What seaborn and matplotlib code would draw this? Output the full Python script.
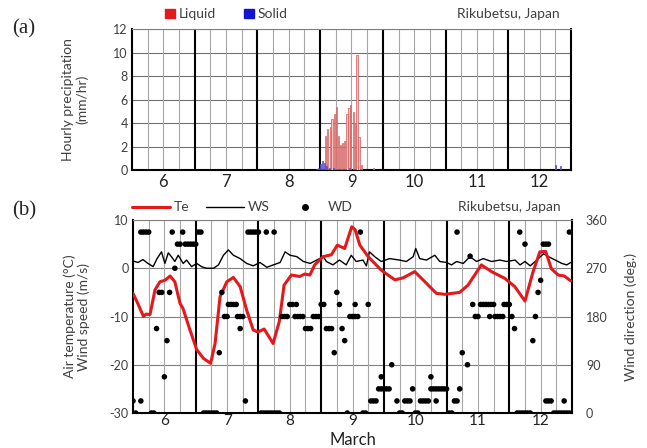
import numpy as np
import pandas as pd
import matplotlib
matplotlib.use('Agg')
import matplotlib.pyplot as plt
import seaborn as sns
from matplotlib.patches import Patch
from matplotlib.lines import Line2D

# ---- values ----
days = [6, 7, 8, 9, 10, 11, 12]

# (a) hourly precipitation, time in days of March
liquid_t = [8.59, 8.62, 8.66, 8.69, 8.73, 8.76, 8.79, 8.83, 8.86, 8.89,
            8.93, 8.96, 8.99, 9.03, 9.06, 9.09, 9.12, 9.16, 9.35]
liquid_mm = [2.9, 3.5, 3.7, 4.3, 4.8, 5.4, 2.9, 2.1, 2.3, 2.5,
             4.8, 5.3, 5.5, 4.9, 4.0, 9.8, 2.8, 0.4, 0.2]
solid_t = [8.45, 8.48, 8.51, 8.54, 8.57, 8.60, 8.65, 8.71, 8.80, 8.87,
           8.97, 9.05, 12.25, 12.33]
solid_mm = [0.05, 0.2, 0.55, 0.75, 0.6, 0.3, 0.15, 0.2, 0.1, 0.12,
            0.15, 0.1, 0.4, 0.3]

# (b) hours since 6 March 00:00
te_hour = [0, 2, 4, 5, 6.5, 8.4, 10.3, 12.2, 14.2, 16, 18, 19.1, 21.8, 24.4, 27,
           29.7, 31.4, 33.3, 35.9, 38.4, 41, 43.5, 46, 47.8, 50.2, 53.6, 56, 57.8,
           60.6, 63.8, 65.7, 67.7, 69.5, 72.7, 75.9, 78.2, 81, 83.7, 85, 86.8, 90,
           95, 100.2, 103.3, 107.8, 111.7, 116.1, 119.3, 125, 128.2, 133.3, 137.2,
           142.3, 146.1, 150, 153.1, 155.7, 157.9, 160.1, 162.7, 165, 167.5]
te_c = [-5.2, -7.5, -10.0, -9.5, -9.6, -4.5, -2.8, -2.5, -1.6, -2.8, -7.3, -8.3, -12.8, -16.9, -18.7,
        -19.7, -15.6, -5.9, -2.8, -1.9, -3.8, -8.7, -12.8, -13.2, -12.6, -15.6, -11.0, -3.5,
        -1.4, -1.7, -1.2, -1.4, 0.7, 2.4, 2.8, 4.8, 4.1, 8.6, 8.0, 4.8, 2.4,
        -0.4, -2.4, -2.0, -0.7, -2.8, -5.2, -5.4, -5.0, -3.5, 0.7, -0.7,
        -2.1, -3.8, -6.8, -0.7, 3.4, 3.5, -0.1, -1.4, -1.6, -2.6]

ws_hour = [0, 1.9, 3.8, 5.7, 7.7, 9.2, 10.9, 12.2, 13.5, 14.7, 16, 17.3, 19.2, 20.5, 22.4,
           24.4, 26.3, 28.2, 30.8, 32.7, 34.6, 36.5, 38.4, 41, 43.5, 46, 48.6, 51.2, 53.7,
           56.3, 58.2, 60.1, 62.7, 65.2, 67.8, 70.3, 72.8, 74, 76.5, 79, 81.6, 83.5, 85.4,
           88, 89.3, 90.5, 92.5, 95, 98.2, 102, 104.6, 107.2, 108.2, 109.7, 112.3, 115.5,
           117.4, 120, 121.9, 123.8, 126.4, 128.9, 131.5, 134, 137.2, 140.4, 143, 146.2,
           148.1, 150, 152, 154.5, 157.1, 159, 161.6, 164.1, 166, 167.5]
ws_ms = [1.5, 1.2, 1.8, 1.0, 0.35, 2.0, 3.4, 1.0, 3.2, 2.4, 1.4, 2.7, 1.0, 1.7, 0.35,
         1.0, 0.3, 0.0, 0.0, 0.7, 2.7, 3.8, 2.7, 2.0, 1.0, 0.5, 1.2, 0.2, 0.7,
         1.2, 3.4, 2.7, 2.4, 1.4, 1.0, 1.7, 2.4, 1.4, 0.7, 1.7, 0.7, 2.7, 1.4,
         1.7, 0.5, 3.4, 2.4, 1.4, 2.0, 1.7, 1.4, 2.4, 4.1, 2.0, 1.7, 2.7,
         1.4, 1.2, 0.7, 1.4, 1.0, 2.4, 1.4, 2.0, 1.4, 1.7, 1.4, 1.7,
         0.7, 1.4, 0.5, 1.7, 3.0, 2.4, 1.7, 1.0, 0.7, 1.2]

wd_hour = [0, 1, 3, 3, 4, 5, 6, 7, 8, 9, 10, 11, 12, 13, 14, 15, 16,
           17, 18, 19, 20, 21, 22, 23, 24, 25, 26, 27, 28, 29, 30, 31, 32,
           33, 34, 35, 36, 36.5, 37.5, 38.5, 39.5, 40, 41, 41, 42, 43,
           44, 45, 46, 47, 48, 49, 50, 51, 51, 52, 53, 54, 54, 55, 56,
           57, 58, 59, 60, 61, 62, 62.5, 63, 64, 65, 66, 67, 68, 69, 70,
           71, 72, 73, 74, 75, 76, 77, 78, 79, 80, 81, 82,
           83, 84, 85, 85, 86, 87, 88, 89, 90, 91, 92, 93,
           94, 95, 95, 96, 97, 98, 99, 101, 102, 103, 104, 105, 106, 107, 108, 109,
           110, 111, 112, 113, 114, 114, 115, 116, 116, 117, 118, 119, 120,
           121, 122, 123, 124, 124, 125, 126, 128, 129, 130, 131, 132,
           133, 134, 135, 136, 137, 138, 136.5, 138.5, 139.5, 140.5, 141.5, 142, 143, 144, 145,
           146, 147, 148, 148, 149, 150, 150, 151, 152, 153, 154, 155, 156,
           157, 158, 159, 158, 159, 160, 161, 162, 163, 164, 165, 165, 166, 167, 167]
wd_deg = [22.5, 0, 22.5, 337.5, 337.5, 337.5, 337.5, 0, 0, 157.5, 225, 225, 67.5, 135, 225, 337.5, 270,
          315, 315, 337.5, 315, 315, 315, 315, 315, 337.5, 337.5, 0, 0, 0, 0, 0, 0,
          112.5, 225, 180, 180, 202.5, 202.5, 202.5, 202.5, 180, 180, 157.5, 180, 22.5,
          337.5, 337.5, 337.5, 337.5, 337.5, 0, 0, 0, 337.5, 0, 0, 0, 337.5, 0, 0,
          180, 180, 180, 202.5, 202.5, 180, 202.5, 180, 180, 180, 157.5, 157.5, 157.5, 180, 180,
          180, 202.5, 202.5, 157.5, 157.5, 157.5, 112.5, 225, 202.5, 157.5, 135, 0,
          180, 180, 180, 202.5, 180, 337.5, 0, 0, 202.5, 22.5, 22.5, 22.5,
          45, 45, 67.5, 45, 45, 45, 90, 22.5, 0, 0, 22.5, 22.5, 22.5, 45, 0, 0,
          22.5, 22.5, 22.5, 22.5, 45, 67.5, 45, 45, 22.5, 45, 45, 45, 45,
          0, 0, 22.5, 22.5, 337.5, 45, 112.5, 90, 292.5, 202.5, 180, 180,
          202.5, 202.5, 202.5, 202.5, 202.5, 202.5, 180, 180, 180, 180, 180, 202.5, 202.5, 202.5, 180,
          157.5, 0, 0, 337.5, 0, 0, 315, 0, 0, 135, 180, 225, 247.5,
          315, 315, 315, 22.5, 22.5, 22.5, 0, 0, 0, 0, 0, 22.5, 0, 0, 337.5]

# convert hours to day-of-March axis (6 March 00:00 -> 5.5)
te = pd.DataFrame({'t': 5.5 + np.array(te_hour) / 24, 'v': te_c})
ws = pd.DataFrame({'t': 5.5 + np.array(ws_hour) / 24, 'v': ws_ms})
wd = pd.DataFrame({'t': 5.5 + np.array(wd_hour) / 24, 'v': wd_deg})

sns.set_style('white')
plt.rcParams['font.family'] = ['Lato', 'DejaVu Sans']
txt = '#404040'

fig = plt.figure(figsize=(6.47, 4.48), dpi=100)
ax_a = fig.add_axes([0.204, 0.6205, 0.6785, 0.3147])
ax_b = fig.add_axes([0.2056, 0.0781, 0.6785, 0.4308])


def day_grid(ax, fs=12):
    for x in np.arange(5.75, 12.5, 0.25):
        if abs(x - round(x - 0.5) - 0.5) < 1e-6:
            ax.axvline(x, color='black', lw=1.5, zorder=1)
        else:
            ax.axvline(x, color='#a6a6a6', lw=0.8, zorder=1)
    ax.set_xlim(5.5, 12.5)
    ax.set_xticks(days)
    ax.set_xticklabels([str(d) for d in days], fontsize=fs, color='#222222')
    ax.tick_params(length=0, pad=3)
    for s in ['left', 'right', 'bottom']:
        ax.spines[s].set_color('black')
        ax.spines[s].set_linewidth(1.5)
    ax.spines['top'].set_color('#808080')
    ax.spines['top'].set_linewidth(0.8)


# ---- (a) precipitation ----
ax_a.bar(liquid_t, liquid_mm, width=0.02, color='#f6c4c4', edgecolor='#d45858', lw=0.5, zorder=3)
ax_a.bar(solid_t, solid_mm, width=0.02, color='#a0a0ea', edgecolor='#4040c8', lw=0.5, zorder=3)
ax_a.set_ylim(0, 12)
ax_a.set_yticks(range(0, 13, 2))
ax_a.set_yticklabels([str(v) for v in range(0, 13, 2)], fontsize=9, color=txt)
ax_a.yaxis.grid(True, color='#707070', lw=0.8, zorder=0)
day_grid(ax_a)
ax_a.set_ylabel('Hourly precipitation\n(mm/hr)', fontsize=10, color=txt, labelpad=18)
ax_a.legend(handles=[Patch(color='#e3191c', label='Liquid'), Patch(color='#1414d0', label='Solid')],
            loc='center', bbox_to_anchor=(0.215, 1.105), ncol=2, frameon=False, fontsize=10,
            handlelength=0.7, handleheight=0.7, handletextpad=0.3, columnspacing=2.0, labelcolor=txt)
ax_a.text(0.975, 1.105, 'Rikubetsu, Japan', transform=ax_a.transAxes, ha='right', va='center',
          fontsize=10, color=txt)
fig.text(0.018, 0.935, '(a)', fontsize=15, family='Liberation Serif', ha='left', va='center')

# ---- (b) temperature, wind speed, wind direction ----
ax_b.set_ylim(-30, 10)
ax_b.set_yticks(range(-30, 11, 10))
ax_b.set_yticklabels([str(v) for v in range(-30, 11, 10)], fontsize=9, color=txt)
ax_b.yaxis.grid(True, color='#808080', lw=0.8, zorder=0)
day_grid(ax_b, fs=11)
ax_b.tick_params(axis='x', pad=1)
sns.lineplot(data=ws, x='t', y='v', ax=ax_b, color='black', lw=1.0, zorder=4)
sns.lineplot(data=te, x='t', y='v', ax=ax_b, color='#e3191c', lw=2.2, zorder=5)
ax_b.set_ylabel('Air temperature (°C)\nWind speed (m/s)', fontsize=10, color=txt, labelpad=14)
ax_b.set_xlabel('March', fontsize=12, color='#222222')
ax_b.xaxis.set_label_coords(0.5, -0.098)

ax_w = ax_b.twinx()
sns.scatterplot(data=wd, x='t', y='v', ax=ax_w, color='black', s=16, edgecolor='none', zorder=6)
ax_w.set_ylim(0, 360)
ax_w.set_yticks(range(0, 361, 90))
ax_w.set_yticklabels([str(v) for v in range(0, 361, 90)], fontsize=9, color=txt)
ax_w.tick_params(length=0, pad=10)
ax_w.set_ylabel('Wind direction (deg.)', fontsize=10, color=txt, labelpad=12)
for s in ax_w.spines.values():
    s.set_visible(False)
ax_w.set_xlim(5.5, 12.5)

handles_b = [Line2D([], [], color='#e3191c', lw=2.2, label='Te'),
             Line2D([], [], color='black', lw=1.0, label='WS'),
             Line2D([], [], color='black', marker='o', ms=4, ls='none', label='WD')]
ax_w.legend(handles=handles_b, loc='center', bbox_to_anchor=(0.25, 1.065), ncol=3, frameon=False,
            fontsize=10, handlelength=2.7, handletextpad=0.3, columnspacing=1.2, labelcolor=txt)
ax_w.text(0.975, 1.065, 'Rikubetsu, Japan', transform=ax_w.transAxes, ha='right', va='center',
          fontsize=10, color=txt)
fig.text(0.018, 0.53, '(b)', fontsize=15, family='Liberation Serif', ha='left', va='center')

fig.savefig('out.png', dpi=100)
